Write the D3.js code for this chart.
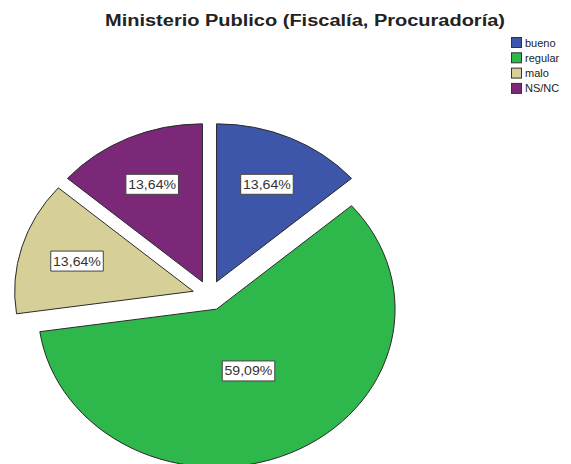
<!DOCTYPE html>
<html lang="es">
<head>
<meta charset="UTF-8" />
<title>Ministerio Publico</title>
<script src="https://d3js.org/d3.v7.min.js"></script>
<style>
  body { margin: 0; background: #fff; }
  svg { display: block; font-family: "Liberation Sans", Arial, sans-serif; }
</style>
</head>
<body>
<svg id="chart" width="571" height="464"></svg>
<script>
const categories = ["bueno", "regular", "malo", "NS/NC"];
const percents = [13.64, 59.09, 13.64, 13.64];
const labels = ["13,64%", "59,09%", "13,64%", "13,64%"];
const colors = ["#3d56aa", "#2eb74b", "#d6cf97", "#7b2878"];

const width = 571, height = 464;
const cx = 209.5, cy = 295.5;
const R = 158;        // vertical radius
const sx = 1.13;      // the whole picture is stretched sideways
const explode = 15;

const svg = d3.select("#chart");

svg.append("text")
  .attr("x", 305)
  .attr("y", 26)
  .attr("text-anchor", "middle")
  .attr("font-size", 16)
  .attr("font-weight", "bold")
  .attr("fill", "#222")
  .attr("textLength", 400)
  .attr("lengthAdjust", "spacingAndGlyphs")
  .text("Ministerio Publico (Fiscalía, Procuradoría)");

const pie = d3.pie().sort(null).value(d => d)(percents);
const arc = d3.arc().innerRadius(0).outerRadius(R);

const g = svg.append("g");

pie.forEach((p, i) => {
  const mid = (p.startAngle + p.endAngle) / 2;
  const ox = Math.sin(mid) * explode * sx;
  const oy = -Math.cos(mid) * explode;
  g.append("path")
    .attr("d", arc(p))
    .attr("transform", `translate(${cx + ox},${cy + oy}) scale(${sx},1)`)
    .attr("fill", colors[i])
    .attr("stroke", "#2a2a2a")
    .attr("stroke-width", 1)
    .attr("vector-effect", "non-scaling-stroke");
});

// labels, near the centroid of each slice
pie.forEach((p, i) => {
  const mid = (p.startAngle + p.endAngle) / 2;
  const half = (p.endAngle - p.startAngle) / 2;
  let r = 1.05 * 2 * R * Math.sin(half) / (3 * half);
  r = Math.max(r, 0.43 * R);
  const ax = cx + Math.sin(mid) * explode * sx;
  const ay = cy - Math.cos(mid) * explode;
  const lx = ax + Math.sin(mid) * r * sx;
  const ly = ay - Math.cos(mid) * r;
  const lg = svg.append("g").attr("transform", `translate(${lx},${ly}) scale(${sx},1)`);
  const t = lg.append("text")
    .attr("text-anchor", "middle")
    .attr("dy", "0.36em")
    .attr("font-size", 12.5)
    .attr("fill", "#333")
    .text(labels[i]);
  const bb = t.node().getBBox();
  lg.insert("rect", "text")
    .attr("x", bb.x - 2)
    .attr("y", -10)
    .attr("width", bb.width + 4)
    .attr("height", 20)
    .attr("fill", "#fff")
    .attr("stroke", "#444")
    .attr("stroke-width", 1)
    .attr("vector-effect", "non-scaling-stroke");
});

// legend
const leg = svg.append("g").attr("transform", "translate(511,37)");
categories.forEach((c, i) => {
  const row = leg.append("g").attr("transform", `translate(0,${i * 15.3})`);
  row.append("rect")
    .attr("x", 0.5).attr("y", 0.5)
    .attr("width", 10).attr("height", 10)
    .attr("fill", colors[i])
    .attr("stroke", "#333");
  row.append("text")
    .attr("x", 14)
    .attr("y", 9.5)
    .attr("font-size", 11)
    .attr("fill", "#222")
    .text(c);
});
</script>
</body>
</html>
